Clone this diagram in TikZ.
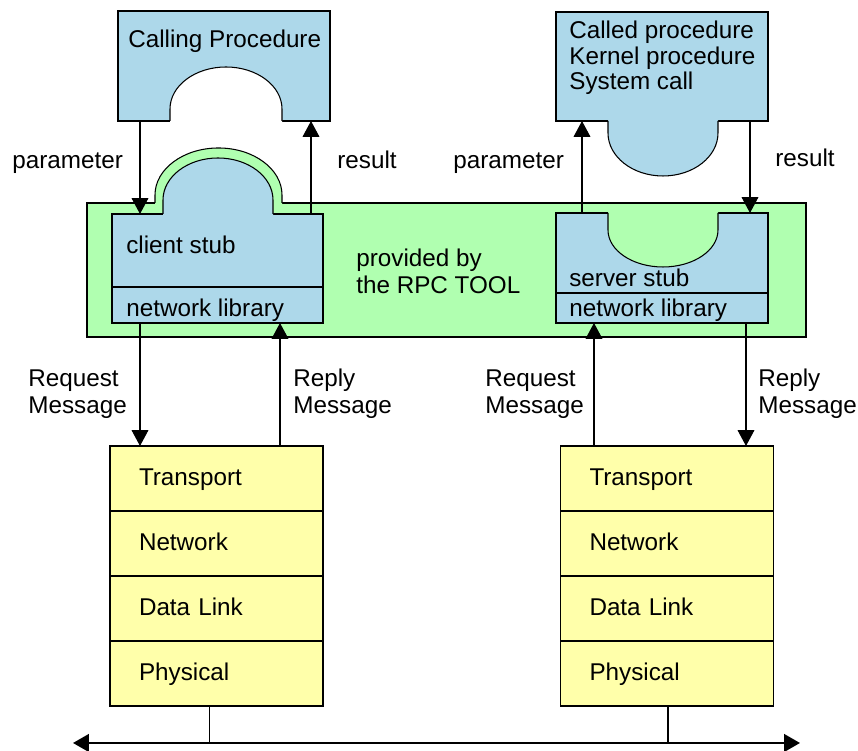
\documentclass[tikz,border=0pt]{standalone}
\usepackage{fontspec}
\setmainfont{Liberation Sans}
\usepackage{tikz}
\usetikzlibrary{positioning}
\usetikzlibrary{arrows.meta}
\definecolor{procblue}{RGB}{173,216,234}
\definecolor{toolgreen}{RGB}{176,255,176}
\definecolor{layeryellow}{RGB}{255,255,170}
\tikzstyle{proc}=[rectangle,draw=black,fill=procblue,line width=0.6pt,inner sep=0mm,outer sep=0mm]
\tikzstyle{tool}=[rectangle,draw=black,fill=toolgreen,line width=0.6pt,inner sep=0mm,outer sep=0mm]
\tikzstyle{layer}=[rectangle,draw=black,fill=layeryellow,line width=0.6pt,outer sep=0mm,minimum width=4.26cm,minimum height=1.30cm,text width=3.10cm,inner xsep=0.58cm,inner ysep=0mm,align=left,text height=10pt,text depth=1.5pt,font=\fontsize{13.8}{15.6}\selectfont]
\tikzstyle{lbl}=[inner sep=0mm,anchor=base west,align=left,font=\fontsize{13.8}{15.6}\selectfont]
\tikzstyle{msg}=[-{Triangle[length=9pt,width=9.5pt]},line width=0.6pt]
\tikzstyle{bus}=[{Triangle[length=9pt,width=10pt]}-{Triangle[length=9pt,width=10pt]},line width=1.2pt]

\begin{document}
\begin{tikzpicture}
    \useasboundingbox (0,0) rectangle (17.16,15.02);
    % the part provided by the tool, with its bump round the client stub
    \node[tool,minimum width=14.38cm,minimum height=2.68cm] at (8.93,9.62) (rpc) {};
    \fill[toolgreen] (3.10,10.94) -- (3.10,11.12) arc[start angle=180,end angle=0,x radius=1.27cm,y radius=0.94cm] -- (5.64,10.94) -- cycle;
    \draw[line width=0.6pt] (3.10,10.96) -- (3.10,11.12) arc[start angle=180,end angle=0,x radius=1.27cm,y radius=0.94cm] -- (5.64,10.96);
    % client side
    \node[proc,minimum width=4.24cm,minimum height=2.20cm] at (4.48,13.70) (calling) {};
    \fill[white] (3.40,12.57) -- (3.40,12.84) arc[start angle=180,end angle=0,x radius=1.12cm,y radius=0.84cm] -- (5.64,12.57) -- cycle;
    \draw[line width=0.6pt] (3.40,12.60) -- (3.40,12.84) arc[start angle=180,end angle=0,x radius=1.12cm,y radius=0.84cm] -- (5.64,12.60);
    \node[proc,minimum width=4.22cm,minimum height=1.46cm] at (4.35,10.01) (cstub) {};
    \node[proc,minimum width=4.22cm,minimum height=0.72cm,below=0mm of cstub] (clib) {};
    \fill[procblue] (3.26,10.72) -- (3.26,11.02) arc[start angle=180,end angle=0,x radius=1.10cm,y radius=0.84cm] -- (5.46,10.72) -- cycle;
    \draw[line width=0.6pt] (3.26,10.74) -- (3.26,11.02) arc[start angle=180,end angle=0,x radius=1.10cm,y radius=0.84cm] -- (5.46,10.74);
    % server side
    \node[proc,minimum width=4.24cm,minimum height=2.18cm] at (13.24,13.69) (called) {};
    \fill[procblue] (12.16,12.62) -- (12.16,12.36) arc[start angle=180,end angle=360,x radius=1.10cm,y radius=0.86cm] -- (14.36,12.62) -- cycle;
    \draw[line width=0.6pt] (12.16,12.60) -- (12.16,12.36) arc[start angle=180,end angle=360,x radius=1.10cm,y radius=0.86cm] -- (14.36,12.60);
    \node[proc,minimum width=4.24cm,minimum height=1.60cm] at (13.24,9.96) (sstub) {};
    \node[proc,minimum width=4.24cm,minimum height=0.60cm,below=0mm of sstub] (slib) {};
    \fill[toolgreen] (12.16,10.785) -- (12.16,10.42) arc[start angle=180,end angle=360,x radius=1.10cm,y radius=0.74cm] -- (14.36,10.785) -- cycle;
    \draw[line width=0.6pt] (12.16,10.76) -- (12.16,10.42) arc[start angle=180,end angle=360,x radius=1.10cm,y radius=0.74cm] -- (14.36,10.76);
    % protocol stacks
    \node[layer] at (4.33,5.45) (tr1) {Transport};
    \node[layer,below=0mm of tr1] (nw1) {Network};
    \node[layer,below=0mm of nw1] (dl1) {Data Link};
    \node[layer,below=0mm of dl1] (ph1) {Physical};
    \node[layer] at (13.34,5.45) (tr2) {Transport};
    \node[layer,below=0mm of tr2] (nw2) {Network};
    \node[layer,below=0mm of nw2] (dl2) {Data Link};
    \node[layer,below=0mm of dl2] (ph2) {Physical};
    % texts (base is the last line)
    \node[lbl] at (2.56,14.06) (tcalling) {Calling Procedure};
    \node[lbl,font=\fontsize{13.8}{14.7}\selectfont] at (11.38,13.22) (tcalled) {Called procedure\\Kernel procedure\\System call};
    \node[lbl] at (2.52,9.94) (tcstub) {client stub};
    \node[lbl] at (2.52,8.68) (tclib) {network library};
    \node[lbl] at (11.38,9.28) (tsstub) {server stub};
    \node[lbl] at (11.38,8.68) (tslib) {network library};
    \node[lbl] at (7.12,9.14) (trpc) {provided by\\the RPC TOOL};
    \node[lbl] at (0.24,11.64) (cpar) {parameter};
    \node[lbl] at (6.74,11.64) (cres) {result};
    \node[lbl] at (9.06,11.64) (spar) {parameter};
    \node[lbl] at (15.50,11.68) (sres) {result};
    \node[lbl] at (0.56,6.74) (creq) {Request\\Message};
    \node[lbl] at (5.86,6.74) (crep) {Reply\\Message};
    \node[lbl] at (9.70,6.74) (sreq) {Request\\Message};
    \node[lbl] at (15.16,6.74) (srep) {Reply\\Message};
    % calls and messages
    \draw[msg] (2.80,0 |- calling.south) -- (2.80,0 |- cstub.north);
    \draw[msg] (6.22,0 |- cstub.north) -- (6.22,0 |- calling.south);
    \draw[msg] (11.64,0 |- sstub.north) -- (11.64,0 |- called.south);
    \draw[msg] (15.00,0 |- called.south) -- (15.00,0 |- sstub.north);
    \draw[msg] (2.80,0 |- clib.south) -- (2.80,0 |- tr1.north);
    \draw[msg] (5.60,0 |- tr1.north) -- (5.60,0 |- clib.south);
    \draw[msg] (11.88,0 |- tr2.north) -- (11.88,0 |- slib.south);
    \draw[msg] (14.92,0 |- slib.south) -- (14.92,0 |- tr2.north);
    % the wire
    \coordinate (busL) at (1.46,0.16);
    \coordinate (busR) at (16.00,0.16);
    \draw[bus] (busL) -- (busR);
    \draw[line width=0.6pt] (4.19,0 |- ph1.south) -- (4.19,0 |- busL);
    \draw[line width=0.6pt] (13.36,0 |- ph2.south) -- (13.36,0 |- busL);
\end{tikzpicture}
\end{document}
